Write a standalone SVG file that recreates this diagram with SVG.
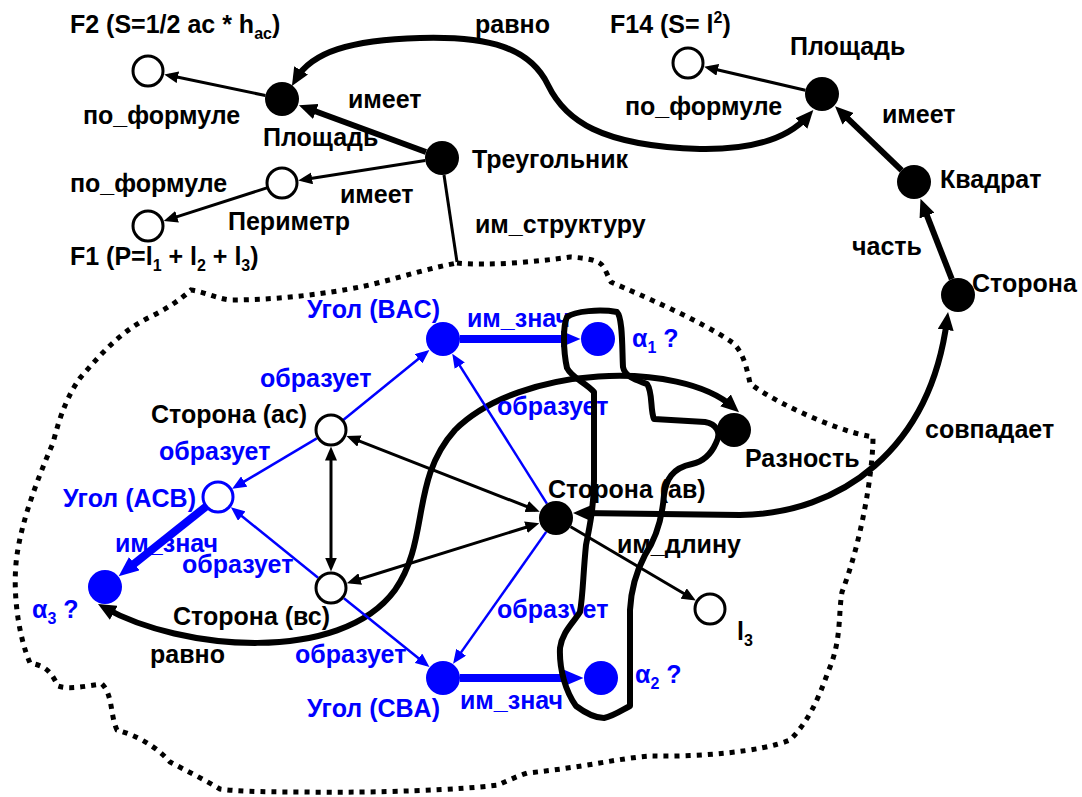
<svg xmlns="http://www.w3.org/2000/svg" width="1082" height="797" viewBox="0 0 1082 797">
<style>
text{font-family:"Liberation Sans",Arial,sans-serif;font-weight:bold;font-size:25px;fill:#000}
text.b{fill:#0000ff}
.sub{font-size:16px}
.ln{fill:none;stroke:#000;stroke-width:3}
.lt{fill:none;stroke:#000;stroke-width:6}
.bl{fill:none;stroke:#0000ff;stroke-width:2.5}
.bt{fill:none;stroke:#0000ff;stroke-width:8}
.dot{fill:none;stroke:#000;stroke-width:5;stroke-dasharray:5 6}
.free{fill:none;stroke:#000;stroke-width:6;stroke-linejoin:round}
.of{fill:#fff;stroke:#000;stroke-width:3}
.ff{fill:#000}
.bf{fill:#0000ff}
.bo{fill:#fff;stroke:#0000ff;stroke-width:3}
</style>
<defs>
<marker id="mk" markerUnits="userSpaceOnUse" markerWidth="14" markerHeight="12" viewBox="0 0 14 12" refX="9.5" refY="6" orient="auto-start-reverse"><path d="M0,0L14,6L0,12z" fill="#000"/></marker>
<marker id="mkt" markerUnits="userSpaceOnUse" markerWidth="18" markerHeight="16" viewBox="0 0 18 16" refX="10" refY="8" orient="auto-start-reverse"><path d="M0,0L18,8L0,16z" fill="#000"/></marker>
<marker id="mb" markerUnits="userSpaceOnUse" markerWidth="14" markerHeight="12" viewBox="0 0 14 12" refX="10" refY="6" orient="auto-start-reverse"><path d="M0,0L14,6L0,12z" fill="#0000ff"/></marker>
<marker id="mbt" markerUnits="userSpaceOnUse" markerWidth="20" markerHeight="17" viewBox="0 0 20 17" refX="10" refY="8.5" orient="auto-start-reverse"><path d="M0,0L20,8.5L0,17z" fill="#0000ff"/></marker>
</defs>
<g id="boundary">
<path class="dot" d="M457,263 C490,266 535,262 570,257 C585,258 598,260 602,265 C606,270 608,277 611,282 C640,295 700,320 733,343 C744,353 747,370 750,383 C762,395 830,430 873,437 C873,470 862,540 842,592 C838,615 842,640 828,672 C818,700 808,722 790,740 C760,752 700,757 650,756 C620,758 580,768 527,773 C515,777 505,782 498,785 C460,790 380,793 300,792 C260,792 232,791 220,789 C205,780 185,770 170,762 C155,745 135,735 117,730 C110,715 113,695 102,684 C85,686 70,690 58,686 C50,670 45,666 30,663 C18,635 12,590 17,555 C22,520 37,480 53,443 C60,415 68,395 80,378 C100,355 120,332 148,318 C165,310 180,300 191,290 C205,292 215,298 230,300 C280,300 330,293 360,287 C390,281 420,270 457,263 Z"/>
</g>
<g id="connectors">
<path class="ln" d="M265.4,95.5 L168.6,75.3" marker-end="url(#mk)"/>
<path class="lt" d="M426,152 L306.4,108" marker-end="url(#mkt)"/>
<path class="ln" d="M425.2,160.6 L302.7,179.8" marker-end="url(#mk)"/>
<path class="ln" d="M267.7,187.6 L168,219.6" marker-end="url(#mk)"/>
<path class="ln" d="M444,175 L457,262"/>
<path class="lt" d="M296,79 C312,52 350,40 420,38 C490,36 530,48 548,85 C565,120 600,146 700,149 C760,150 792,134 808,116" marker-start="url(#mkt)" marker-end="url(#mkt)"/>
<path class="ln" d="M805.4,90.2 L708.5,67.7" marker-end="url(#mk)"/>
<path class="lt" d="M901.7,170.3 L840.8,111.9" marker-end="url(#mkt)"/>
<path class="lt" d="M951.8,279.2 L923.4,206.3" marker-end="url(#mkt)"/>
<path class="lt" d="M581,513 L740,515 C840,514 930,450 947,320" marker-start="url(#mkt)" marker-end="url(#mkt)"/>
<path class="lt" d="M105,608 C180,650 340,665 395,590 C430,540 410,480 455,430 C520,365 680,360 733,407" marker-start="url(#mkt)" marker-end="url(#mkt)"/>
<path class="ln" d="M350.6,437.6 L535.5,510" marker-start="url(#mk)" marker-end="url(#mk)"/>
<path class="ln" d="M351.1,581.8 L535,524.5" marker-start="url(#mk)" marker-end="url(#mk)"/>
<path class="ln" d="M331,451 L331,567" marker-start="url(#mk)" marker-end="url(#mk)"/>
<path class="ln" d="M570.6,526.7 L691.9,598.3" marker-end="url(#mk)"/>
<path class="bl" d="M342.6,420.5 L426.3,352.5" marker-end="url(#mb)"/>
<path class="bl" d="M316.8,438.4 L235.6,486.6" marker-end="url(#mb)"/>
<path class="bl" d="M318.1,577.7 L234,509.8" marker-end="url(#mb)"/>
<path class="bl" d="M343.9,598.3 L426.3,664.5" marker-end="url(#mb)"/>
<path class="bl" d="M546.9,503.6 L454.4,357.2" marker-end="url(#mb)"/>
<path class="bl" d="M546.2,531.9 L455.4,660.4" marker-end="url(#mb)"/>
<path class="bt" d="M460,339 L570.5,339" marker-end="url(#mbt)"/>
<path class="bt" d="M460,678 L573.5,678" marker-end="url(#mbt)"/>
<path class="bt" d="M206.3,506.3 L126.5,569.9" marker-end="url(#mbt)"/>
</g>
<g id="n-f2"><circle class="of" cx="148" cy="71" r="15"/></g>
<g id="n-pl1"><circle class="ff" cx="282" cy="99" r="17"/></g>
<g id="n-tr"><circle class="ff" cx="442" cy="158" r="17"/></g>
<g id="n-per"><circle class="of" cx="282" cy="183" r="15"/></g>
<g id="n-f1"><circle class="of" cx="148" cy="226" r="15"/></g>
<g id="n-f14"><circle class="of" cx="688" cy="63" r="15"/></g>
<g id="n-pl2"><circle class="ff" cx="822" cy="94" r="17"/></g>
<g id="n-kv"><circle class="ff" cx="914" cy="182" r="17"/></g>
<g id="n-sr"><circle class="ff" cx="958" cy="295" r="17"/></g>
<g id="n-bac"><circle class="bf" cx="443" cy="339" r="17"/></g>
<g id="n-a1"><circle class="bf" cx="598" cy="339" r="17"/></g>
<g id="n-raz"><circle class="ff" cx="734" cy="430" r="17"/></g>
<g id="n-sac"><circle class="of" cx="331" cy="430" r="15"/></g>
<g id="n-acb"><circle class="bo" cx="218" cy="497" r="15"/></g>
<g id="n-sab"><circle class="ff" cx="556" cy="518" r="17"/></g>
<g id="n-a3"><circle class="bf" cx="105" cy="587" r="17"/></g>
<g id="n-sbc"><circle class="of" cx="331" cy="588" r="15"/></g>
<g id="n-l3"><circle class="of" cx="710" cy="609" r="15"/></g>
<g id="n-cba"><circle class="bf" cx="443" cy="678" r="17"/></g>
<g id="n-a2"><circle class="bf" cx="601" cy="678" r="17"/></g>
<g id="labels">
<text x="70" y="33">F2 (S=1/2 ac * h<tspan class="sub" dy="6">ac</tspan><tspan dy="-6">)</tspan></text>
<text x="83" y="124">по_формуле</text>
<text x="263" y="146">Площадь</text>
<text x="348" y="108">имеет</text>
<text x="472" y="168">Треугольник</text>
<text x="70" y="192">по_формуле</text>
<text x="340" y="203">имеет</text>
<text x="228" y="230">Периметр</text>
<text x="70" y="265">F1 (P=l<tspan class="sub" dy="6">1</tspan><tspan dy="-6"> + l</tspan><tspan class="sub" dy="6">2</tspan><tspan dy="-6"> + l</tspan><tspan class="sub" dy="6">3</tspan><tspan dy="-6">)</tspan></text>
<text x="475" y="233">им_структуру</text>
<text x="475" y="33">равно</text>
<text x="610" y="33">F14 (S= l<tspan class="sub" dy="-10">2</tspan><tspan dy="10">)</tspan></text>
<text x="625" y="115">по_формуле</text>
<text x="790" y="55">Площадь</text>
<text x="882" y="123">имеет</text>
<text x="940" y="188">Квадрат</text>
<text x="852" y="255">часть</text>
<text x="972" y="292">Сторона</text>
<text x="925" y="438">совпадает</text>
<text x="745" y="467">Разность</text>
<text x="151" y="423">Сторона (ас)</text>
<text x="548" y="498">Сторона (ав)</text>
<text x="617" y="553">им_длину</text>
<text x="173" y="625">Сторона (вс)</text>
<text x="150" y="663">равно</text>
<text x="737" y="640">l<tspan class="sub" dy="6">3</tspan></text>
<text class="b" x="307" y="318">Угол (BAC)</text>
<text class="b" x="467" y="327">им_знач</text>
<text class="b" x="632" y="347">α<tspan class="sub" dy="6">1</tspan><tspan dy="-6"> ?</tspan></text>
<text class="b" x="260" y="387">образует</text>
<text class="b" x="497" y="415">образует</text>
<text class="b" x="159" y="460">образует</text>
<text class="b" x="63" y="507">Угол (ACB)</text>
<text class="b" x="115" y="552">им_знач</text>
<text class="b" x="182" y="573">образует</text>
<text class="b" x="32" y="618">α<tspan class="sub" dy="6">3</tspan><tspan dy="-6"> ?</tspan></text>
<text class="b" x="295" y="663">образует</text>
<text class="b" x="307" y="717">Угол (CBA)</text>
<text class="b" x="460" y="709">им_знач</text>
<text class="b" x="635" y="683">α<tspan class="sub" dy="6">2</tspan><tspan dy="-6"> ?</tspan></text>
<text class="b" x="497" y="618">образует</text>
</g>
<g id="outline">
<path class="free" d="M567,317 C575,311 600,309 617,312 C623,318 622,350 623,367 C625,378 640,381 647,384 C653,392 650,410 654,419 L705,422 C716,424 722,432 716,443 C712,452 706,461 692,464 C672,468 666,480 664,495 C662,520 655,540 645,555 C636,572 631,590 630,610 L630,706 C622,710 614,716 604,718 C594,718 584,712 576,706 C566,692 559,670 560,648 C562,632 574,622 580,612 C583,595 583,575 586,545 C590,525 594,505 594,480 L594,392 C585,382 572,378 567,368 C563,350 563,325 567,317 Z"/>
</g>
</svg>
